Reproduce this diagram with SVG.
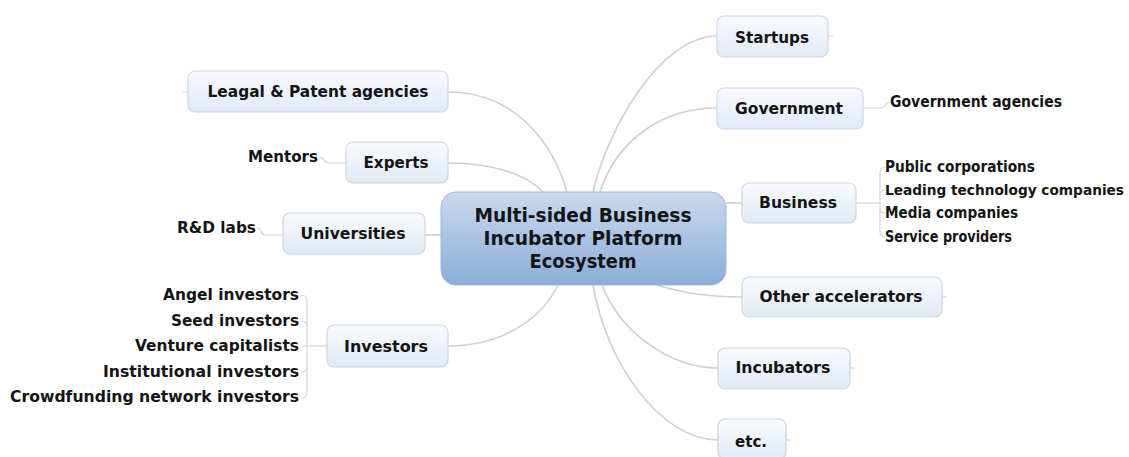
<svg xmlns="http://www.w3.org/2000/svg" width="1129" height="457" viewBox="0 0 1129 457">
<defs>
<linearGradient id="gc" x1="0" y1="0" x2="0" y2="1">
<stop offset="0" stop-color="#c9d9ee"/>
<stop offset="1" stop-color="#8badd8"/>
</linearGradient>
<linearGradient id="gn" x1="0" y1="0" x2="0" y2="1">
<stop offset="0" stop-color="#f8fafe"/>
<stop offset="1" stop-color="#e2eaf7"/>
</linearGradient>
</defs>
<style>
.n rect{fill:url(#gn);stroke:#cdd6e4;stroke-width:1.2}
.t{font-family:"DejaVu Sans",Verdana,sans-serif;font-weight:bold;fill:#141414}
.nt{font-size:15.5px;text-anchor:middle}
.lf{font-size:15px}
.r{text-anchor:end}
.c{fill:none;stroke:#cfcfcf;stroke-width:1.6}
.s{fill:none;stroke:#d6d6d6;stroke-width:1.2}
</style>
<rect width="1129" height="457" fill="#ffffff"/>
<g id="connectors">
<path class="c" d="M448,92 C520,92 555,150 567,192"/>
<path class="c" d="M448,163 C500,163 530,178 543,192"/>
<path class="c" d="M425,235 L441,235"/>
<path class="c" d="M448,346 C510,346 545,312 558,285"/>
<path class="c" d="M593,192 C607,130 660,36 717,36"/>
<path class="c" d="M600,192 C617,140 662,108 717,108"/>
<path class="c" d="M726,203 L742,203"/>
<path class="c" d="M657,285 C682,293 712,297 742,297"/>
<path class="c" d="M602,285 C620,332 670,368 718,368"/>
<path class="c" d="M593,285 C606,362 660,440 718,440"/>
<path class="s" d="M828,36 L833,36"/>
<path class="s" d="M942,297 L947,297"/>
<path class="s" d="M850,368 L855,368"/>
<path class="s" d="M786,440 L791,440"/>
<path class="s" d="M188,92 L183,92"/>
<path class="s" d="M863,108 L880,108 Q884,108 886,104 Q888,102 890,102"/>
<path class="s" d="M346,163 L330,163 Q326,163 324,160 Q322,157 319,157"/>
<path class="s" d="M283,235 L266,235 Q262,235 261,231 Q260,228 257,228"/>
<path class="s" d="M327,346 L307,346"/>
<path class="s" d="M301,295 Q307,295 307,301 L307,392 Q307,398 301,398"/>
<path class="s" d="M301,321 Q307,321 307,326 M301,372 Q307,372 307,367"/>
<path class="s" d="M302,346 L307,346"/>
<path class="s" d="M856,203 L880,203"/>
<path class="s" d="M885,167 Q880,167 880,173 L880,231 Q880,237 885,237"/>
<path class="s" d="M885,190 Q880,190 880,195 M885,213 Q880,213 880,208"/>
</g>
<g id="center">
<rect x="441" y="192" width="285" height="93" rx="15" fill="url(#gc)" stroke="#9fb8dc" stroke-width="1"/>
<text class="t" x="583" y="222" font-size="19" text-anchor="middle" fill="#18202e" textLength="217" lengthAdjust="spacingAndGlyphs">Multi-sided Business</text>
<text class="t" x="583" y="245" font-size="19" text-anchor="middle" fill="#18202e" textLength="199" lengthAdjust="spacingAndGlyphs">Incubator Platform</text>
<text class="t" x="583" y="268" font-size="19" text-anchor="middle" fill="#18202e" textLength="107" lengthAdjust="spacingAndGlyphs">Ecosystem</text>
</g>
<g id="legal" class="n">
<rect x="188" y="71" width="260" height="41" rx="7"/>
<text class="t nt" x="318" y="97" textLength="221" lengthAdjust="spacingAndGlyphs">Leagal &amp; Patent agencies</text>
</g>
<g id="experts" class="n">
<rect x="346" y="142" width="102" height="41" rx="7"/>
<text class="t nt" x="396" y="168" textLength="65" lengthAdjust="spacingAndGlyphs">Experts</text>
<text class="t lf r" x="318" y="162" textLength="70" lengthAdjust="spacingAndGlyphs">Mentors</text>
</g>
<g id="universities" class="n">
<rect x="283" y="213" width="142" height="41" rx="7"/>
<text class="t nt" x="353" y="239" textLength="105" lengthAdjust="spacingAndGlyphs">Universities</text>
<text class="t lf r" x="256" y="233" textLength="79" lengthAdjust="spacingAndGlyphs">R&amp;D labs</text>
</g>
<g id="investors" class="n">
<rect x="327" y="325" width="121" height="42" rx="7"/>
<text class="t nt" x="386" y="352" textLength="84" lengthAdjust="spacingAndGlyphs">Investors</text>
<text class="t lf r" x="299" y="300" textLength="136" lengthAdjust="spacingAndGlyphs">Angel investors</text>
<text class="t lf r" x="299" y="326" textLength="128" lengthAdjust="spacingAndGlyphs">Seed investors</text>
<text class="t lf r" x="299" y="351" textLength="164" lengthAdjust="spacingAndGlyphs">Venture capitalists</text>
<text class="t lf r" x="299" y="377" textLength="196" lengthAdjust="spacingAndGlyphs">Institutional investors</text>
<text class="t lf r" x="299" y="402" textLength="289" lengthAdjust="spacingAndGlyphs">Crowdfunding network investors</text>
</g>
<g id="startups" class="n">
<rect x="717" y="16" width="111" height="41" rx="7"/>
<text class="t nt" x="772" y="43" textLength="74" lengthAdjust="spacingAndGlyphs">Startups</text>
</g>
<g id="government" class="n">
<rect x="717" y="88" width="146" height="41" rx="7"/>
<text class="t nt" x="789" y="114" textLength="108" lengthAdjust="spacingAndGlyphs">Government</text>
<text class="t lf" x="890" y="107" textLength="172" lengthAdjust="spacingAndGlyphs">Government agencies</text>
</g>
<g id="business" class="n">
<rect x="742" y="183" width="114" height="40" rx="7"/>
<text class="t nt" x="798" y="208" textLength="78" lengthAdjust="spacingAndGlyphs">Business</text>
<text class="t lf" x="885" y="172" textLength="150" lengthAdjust="spacingAndGlyphs">Public corporations</text>
<text class="t" x="885" y="195" font-size="13.6" textLength="239" lengthAdjust="spacingAndGlyphs">Leading technology companies</text>
<text class="t lf" x="885" y="218" textLength="133" lengthAdjust="spacingAndGlyphs">Media companies</text>
<text class="t lf" x="885" y="242" textLength="127" lengthAdjust="spacingAndGlyphs">Service providers</text>
</g>
<g id="accelerators" class="n">
<rect x="742" y="277" width="200" height="40" rx="7"/>
<text class="t nt" x="841" y="302" textLength="163" lengthAdjust="spacingAndGlyphs">Other accelerators</text>
</g>
<g id="incubators" class="n">
<rect x="718" y="348" width="132" height="41" rx="7"/>
<text class="t nt" x="783" y="373" textLength="95" lengthAdjust="spacingAndGlyphs">Incubators</text>
</g>
<g id="etc" class="n">
<rect x="718" y="419" width="68" height="40" rx="7"/>
<text class="t nt" x="751" y="447" textLength="32" lengthAdjust="spacingAndGlyphs">etc.</text>
</g>
</svg>
